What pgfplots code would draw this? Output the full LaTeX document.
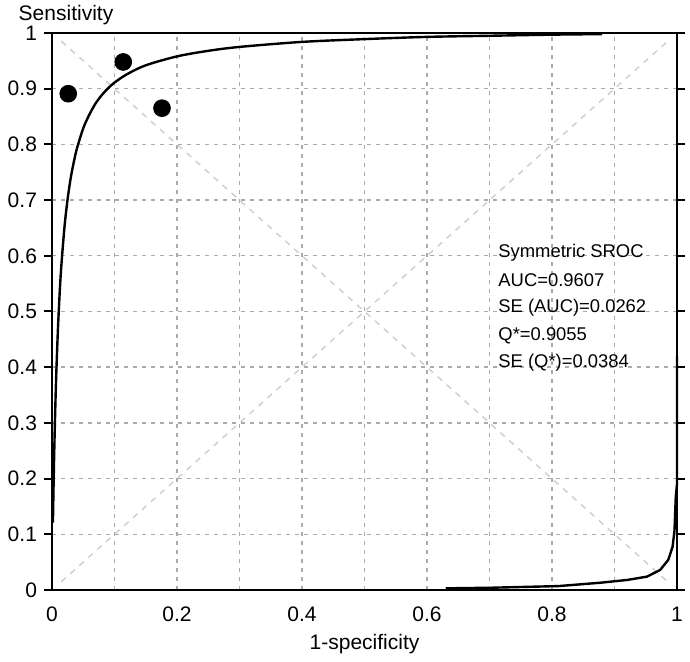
\documentclass[border=0pt]{standalone}
\usepackage{fontspec}
\setmainfont{Liberation Sans}
\usepackage{pgfplots}
\pgfplotsset{compat=1.18}
\usetikzlibrary{calc}

\definecolor{gridgray}{RGB}{170,170,170}
\definecolor{diaggray}{RGB}{205,205,205}

% symmetric SROC curve
\pgfplotstableread{
x y
0.0015 0.121
0.002 0.155
0.003 0.217
0.004 0.269
0.005 0.316
0.006 0.357
0.007 0.393
0.0085 0.440
0.010 0.481
0.0125 0.538
0.015 0.583
0.020 0.652
0.025 0.702
0.030 0.740
0.035 0.769
0.040 0.793
0.050 0.829
0.060 0.854
0.070 0.874
0.080 0.889
0.090 0.901
0.100 0.911
0.120 0.926
0.150 0.942
0.200 0.958
0.250 0.968
0.300 0.975
0.400 0.984
0.500 0.989
0.600 0.993
0.700 0.995
0.800 0.997
0.880 0.998
}\sroc

% lower right branch
\pgfplotstableread{
x y
0.630 0.003
0.700 0.004
0.810 0.007
0.877 0.013
0.920 0.018
0.952 0.024
0.973 0.036
0.986 0.054
0.993 0.078
0.996 0.107
0.998 0.167
1.000 0.190
1.000 0.420
}\branch

% studies
\pgfplotstableread{
x y
0.026 0.891
0.114 0.948
0.176 0.865
}\studies

\begin{document}
\begin{tikzpicture}
\begin{axis}[
    scale only axis,
    width=312.5pt, height=278.5pt,
    xmin=0, xmax=1, ymin=0, ymax=1,
    axis line style={line width=1.2pt},
    xtick={0,0.1,...,1.01},
    xticklabels={0,,0.2,,0.4,,0.6,,0.8,,1},
    ytick={0,0.1,...,1.01},
    yticklabels={0,0.1,0.2,0.3,0.4,0.5,0.6,0.7,0.8,0.9,1},
    xtick style={draw=none},
    ytick style={line width=1pt, black},
    tick align=outside,
    major tick length=4pt,
    tick label style={font=\fontsize{10.5}{12}\selectfont},
    xticklabel style={yshift=-1pt},
    grid=major,
    major grid style={gridgray, line width=0.7pt, dash pattern=on 2pt off 2.5pt},
    clip=false,
]
\coordinate (bl) at (rel axis cs:0,0);
\coordinate (tr) at (rel axis cs:1,1);

\addplot[diaggray, line width=0.7pt, dash pattern=on 3pt off 3pt] coordinates {(0.015,0.985) (0.985,0.015)};
\addplot[diaggray, line width=0.7pt, dash pattern=on 3pt off 3pt] coordinates {(0.015,0.015) (0.985,0.985)};

\addplot[black, line width=1.2pt, smooth] table {\sroc};
\addplot[black, line width=1.2pt] table {\branch};
\addplot[black, line width=1.2pt] coordinates {(0,0.126) (0,0.25)};

\addplot[only marks, mark=*, mark size=4.2pt, black] table {\studies};

\node[anchor=west, font=\fontsize{9.2}{11}\selectfont] at (axis cs:0.703,0.605) {Symmetric SROC};
\node[anchor=west, font=\fontsize{9.2}{11}\selectfont] at (axis cs:0.703,0.556) {AUC=0.9607};
\node[anchor=west, font=\fontsize{9.2}{11}\selectfont] at (axis cs:0.703,0.507) {SE (AUC)=0.0262};
\node[anchor=west, font=\fontsize{9.2}{11}\selectfont] at (axis cs:0.703,0.457) {Q*=0.9055};
\node[anchor=west, font=\fontsize{9.2}{11}\selectfont] at (axis cs:0.703,0.408) {SE (Q*)=0.0384};

\node[font=\fontsize{10.5}{12}\selectfont] at ($(rel axis cs:0,1)+(7pt,9pt)$) {Sensitivity};
\node[font=\fontsize{10.5}{12}\selectfont] at ($(rel axis cs:0.5,0)+(0pt,-27pt)$) {1-specificity};
\end{axis}
\pgfresetboundingbox
\useasboundingbox ($(bl)+(-26pt,-36pt)$) rectangle ($(tr)+(6.5pt,16.5pt)$);
\end{tikzpicture}
\end{document}
